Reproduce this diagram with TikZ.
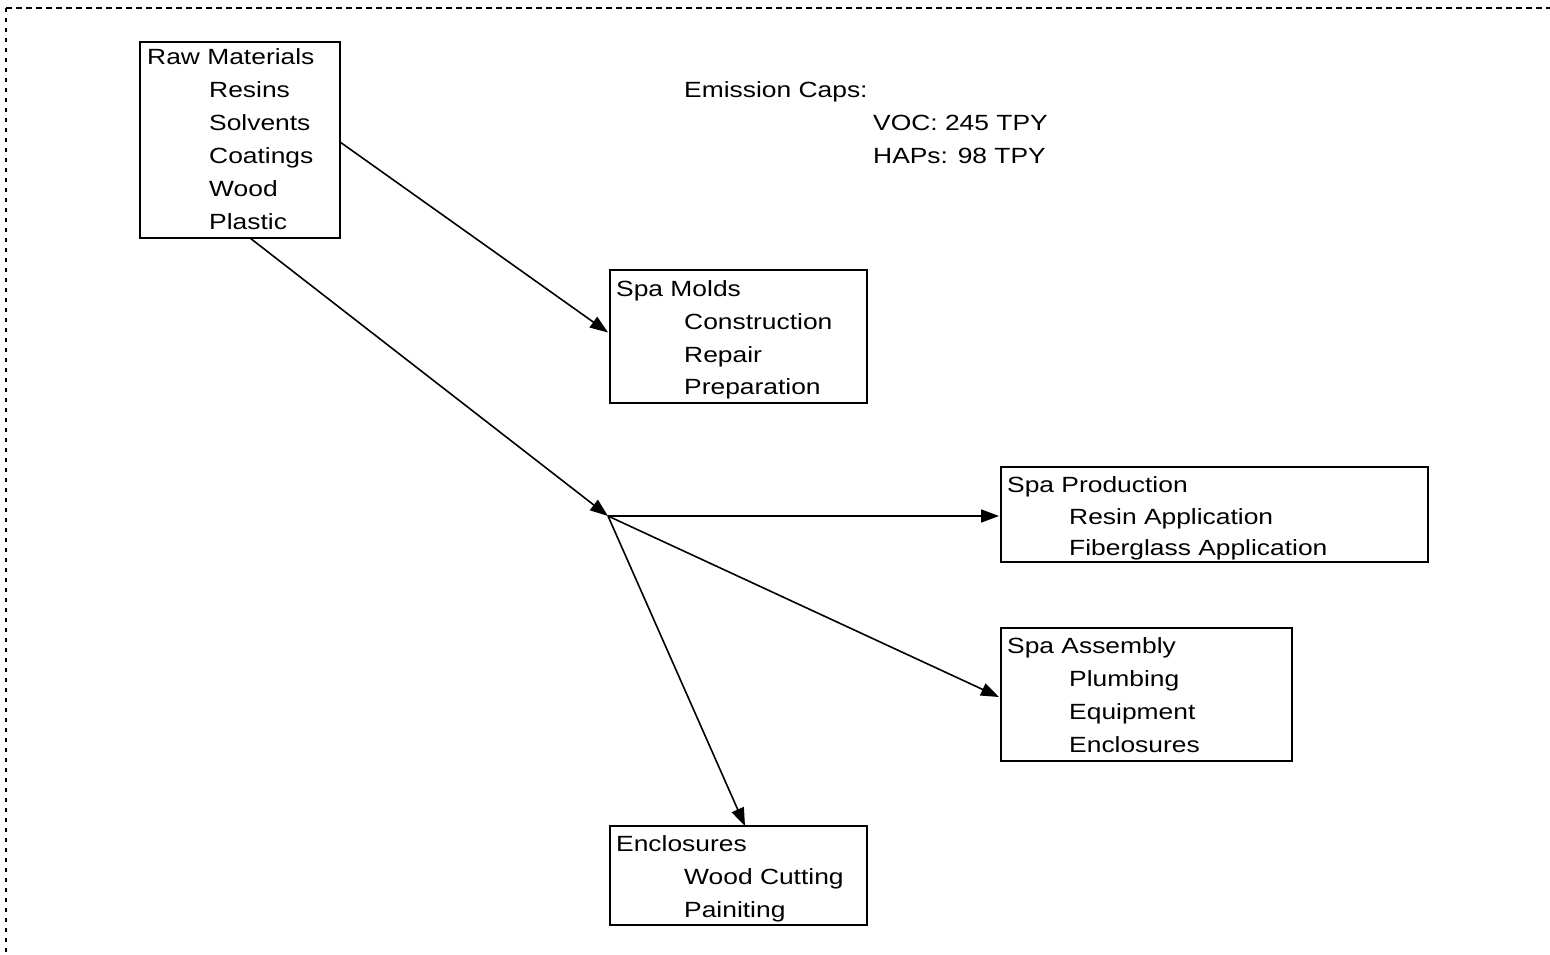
\documentclass[tikz,border=0pt]{standalone}
\usepackage{fontspec}
\setmainfont{Liberation Sans}[FakeStretch=1.2]
\usetikzlibrary{arrows.meta}
\tikzset{
  box/.style={draw, line width=2.2pt, anchor=north west, inner sep=0pt, outer sep=0pt},
  txt/.style={anchor=base west, inner sep=0pt, font=\fontsize{22pt}{33pt}\selectfont},
  conn/.style={line width=1.6pt, -{Triangle[length=18pt,width=13pt]}},
  frame/.style={line width=2.4pt}
}
\begin{document}
\begin{tikzpicture}[x=1pt,y=-1pt]
\useasboundingbox (0,0) rectangle (1550,955);
% dotted frame
\draw[frame, dash pattern=on 6pt off 4pt] (6,8) -- (1550,8);
\draw[frame, dash pattern=on 4pt off 6pt] (6,8) -- (6,955);

% Raw Materials
\node[box, minimum width=200pt, minimum height=196pt] (raw) at (140,42) {};
\node[txt] (raw0) at (147,65) {Raw Materials};
\node[txt] (raw1) at (209,97.8) {Resins};
\node[txt] (raw2) at (209,130.6) {Solvents};
\node[txt] (raw3) at (209,163.4) {Coatings};
\node[txt] (raw4) at (209,196.2) {Wood};
\node[txt] (raw5) at (209,229) {Plastic};

% Emission caps
\node[txt] (em0) at (684,97.8) {Emission Caps:};
\node[txt] (em1) at (873,130.6) {VOC: 245 TPY};
\node[txt] (em2) at (873,163.4) {HAPs: 98 TPY};

% Spa Molds
\node[box, minimum width=257pt, minimum height=133pt] (molds) at (610,270) {};
\node[txt] (mo0) at (616,296) {Spa Molds};
\node[txt] (mo1) at (684,329) {Construction};
\node[txt] (mo2) at (684,362) {Repair};
\node[txt] (mo3) at (684,394) {Preparation};

% Spa Production
\node[box, minimum width=427pt, minimum height=95pt] (prod) at (1001,467) {};
\node[txt] (pr0) at (1007,492) {Spa Production};
\node[txt] (pr1) at (1069,524) {Resin Application};
\node[txt] (pr2) at (1069,555) {Fiberglass Application};

% Spa Assembly
\node[box, minimum width=291pt, minimum height=133pt] (asm) at (1001,628) {};
\node[txt] (as0) at (1007,653) {Spa Assembly};
\node[txt] (as1) at (1069,686) {Plumbing};
\node[txt] (as2) at (1069,719) {Equipment};
\node[txt] (as3) at (1069,752) {Enclosures};

% Enclosures
\node[box, minimum width=257pt, minimum height=99pt] (encl) at (610,826) {};
\node[txt] (en0) at (616,851) {Enclosures};
\node[txt] (en1) at (684,884) {Wood Cutting};
\node[txt] (en2) at (684,917) {Painiting};

% junction
\coordinate (j) at (608,516);

% connectors
\draw[conn] ([yshift=-2pt]raw.east) -- ([xshift=-2pt,yshift=4pt]molds.west);
\draw[conn] ([xshift=10pt]raw.south) -- (j);
\draw[conn] (j) -- ([xshift=-2pt,yshift=-1.5pt]prod.west);
\draw[conn] (j) -- ([xshift=-2pt,yshift=-2.5pt]asm.west);
\draw[conn] (j) -- ([xshift=6.5pt]encl.north);
\end{tikzpicture}
\end{document}
